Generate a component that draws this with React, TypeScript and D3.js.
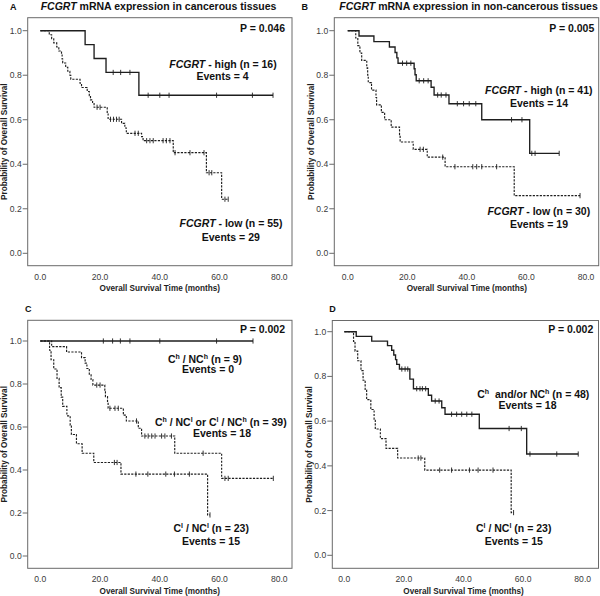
import React from "react";
import * as d3 from "d3";

// ---------- axis ticks ----------
const xTicks = [0, 20, 40, 60, 80];
const yTicks = [0, 0.2, 0.4, 0.6, 0.8, 1.0];

// ---------- Panel A: FCGRT in cancerous tissues ----------
const aHighEvents = [15, 18, 22, 33];
const aHighSurv = [0.9375, 0.875, 0.8125, 0.71];
const aHighCensor = [24.4, 26.9, 30, 36.1, 40, 43.1, 59, 71, 77.9];
const aHighEnd = 77.9;

const aLowEvents = [3.0, 3.8, 4.5, 5.5, 6.2, 7.1, 7.3, 7.5, 8.5, 9.2, 9.9, 10.2, 13.3, 13.8, 15.7, 16.4, 16.8, 17.5, 18.0, 22.4, 22.7, 27.2, 28.3, 28.8, 33.9, 34.4, 44.5, 55.6, 60.7];
const aLowSurv = [0.982, 0.964, 0.945, 0.927, 0.909, 0.891, 0.873, 0.855, 0.836, 0.818, 0.8, 0.782, 0.764, 0.745, 0.727, 0.708, 0.689, 0.673, 0.656, 0.629, 0.602, 0.584, 0.563, 0.539, 0.524, 0.506, 0.452, 0.362, 0.243];
const aLowCensor = [19.0, 20.0, 23.5, 24.5, 25.5, 26.4, 31.7, 32.8, 35.6, 36.7, 37.8, 41.1, 42.2, 43.4, 45.1, 50.1, 54.8, 56.5, 57.4, 61.8, 62.9];
const aLowEnd = 62.9;

// ---------- Panel B: FCGRT in non-cancerous tissues ----------
const bHighEvents = [3.8, 8.8, 14.0, 15.9, 16.5, 16.9, 22.3, 22.6, 23.0, 28.0, 29.0, 34.0, 45.0, 61.1];
const bHighSurv = [0.976, 0.951, 0.927, 0.902, 0.878, 0.854, 0.829, 0.802, 0.775, 0.746, 0.711, 0.672, 0.6, 0.449];
const bHighCensor = [18.4, 19.8, 21.2, 24.0, 25.5, 27.0, 30.2, 31.4, 33.0, 36.8, 38.9, 40.8, 43.0, 55.0, 58.5, 61.8, 62.9, 71.0];
const bHighEnd = 71.0;

const bLowEvents = [2.7, 3.4, 4.1, 4.7, 6.4, 6.7, 6.9, 8.0, 9.5, 9.7, 11.3, 12.4, 14.6, 17.4, 17.6, 22.0, 26.7, 32.7, 55.9];
const bLowSurv = [0.967, 0.933, 0.9, 0.867, 0.833, 0.8, 0.767, 0.733, 0.7, 0.667, 0.633, 0.6, 0.567, 0.533, 0.5, 0.467, 0.432, 0.389, 0.259];
const bLowCensor = [24.3, 25.4, 31.9, 36.0, 42.0, 43.3, 45.0, 50.0, 78.0];
const bLowEnd = 78.0;

// ---------- Panel C ----------
const cHHEvents: number[] = [];
const cHHSurv: number[] = [];
const cHHCensor = [21.1, 24.2, 26.8, 30.0, 40.0, 59.0, 71.2];
const cHHEnd = 71.2;

const cMixEvents = [3.8, 8.8, 13.8, 15.0, 15.6, 16.4, 17.0, 17.6, 21.6, 21.8, 22.5, 22.7, 27.8, 28.8, 32.8, 33.9, 45.0, 60.7];
const cMixSurv = [0.974, 0.949, 0.923, 0.897, 0.872, 0.846, 0.821, 0.795, 0.768, 0.741, 0.714, 0.687, 0.655, 0.628, 0.594, 0.558, 0.478, 0.361];
const cMixCensor = [18.9, 20.0, 23.3, 25.0, 26.1, 32.2, 35.0, 36.1, 37.3, 38.4, 40.6, 41.7, 43.9, 54.5, 61.8, 62.9, 78.0];
const cMixEnd = 78.0;

// Cl / NCl group (n = 23), shown in C and D
const llEvents = [3.1, 3.6, 4.5, 5.6, 6.3, 7.0, 7.5, 8.9, 10.0, 10.4, 12.1, 14.0, 17.9, 27.0, 56.0];
const llSurv = [0.957, 0.913, 0.87, 0.826, 0.783, 0.739, 0.696, 0.652, 0.609, 0.565, 0.522, 0.478, 0.435, 0.381, 0.191];
const llCensor = [24.8, 25.7, 32.0, 36.0, 42.0, 44.9, 49.9, 56.8];
const llEnd = 56.8;

// ---------- Panel D ----------
const dHighEvents = [4.0, 9.2, 14.5, 15.9, 16.6, 17.2, 17.6, 18.5, 22.0, 23.2, 28.2, 29.3, 32.7, 33.8, 45.3, 61.2];
const dHighSurv = [0.979, 0.958, 0.938, 0.917, 0.896, 0.875, 0.854, 0.833, 0.788, 0.745, 0.716, 0.69, 0.66, 0.631, 0.567, 0.453];
const dHighCensor = [19.3, 20.4, 21.3, 24.3, 25.4, 26.2, 27.3, 30.5, 31.8, 36.0, 37.7, 39.4, 41.1, 42.8, 55.3, 59.4, 62.3, 71.3, 78.5];
const dHighEnd = 78.5;

type Curve = { events: number[]; surv: number[]; censor: number[]; end: number; dashed: boolean };
type Layout = { bx0: number; bx1: number; by0: number; by1: number; x0: number; x80: number; yZero: number; yOne: number };

const FONT = "'Liberation Sans', Arial, Helvetica, sans-serif";
const INK = "#1e1e1e";

function survAt(c: Curve, t: number) {
  let s = 1;
  c.events.forEach((e, i) => {
    if (e <= t) s = c.surv[i];
  });
  return s;
}

function Panel({ L, curves, children }: { L: Layout; curves: Curve[]; children?: React.ReactNode }) {
  const x = d3.scaleLinear().domain([0, 80]).range([L.x0, L.x80]);
  const y = d3.scaleLinear().domain([0, 1]).range([L.yZero, L.yOne]);
  const line = d3
    .line<[number, number]>()
    .x((d) => x(d[0]))
    .y((d) => y(d[1]))
    .curve(d3.curveStepAfter);
  return (
    <g>
      <rect x={L.bx0} y={L.by0} width={L.bx1 - L.bx0} height={L.by1 - L.by0} fill="none" stroke="#6a6a6a" strokeWidth={1} />
      {yTicks.map((t) => (
        <g key={"y" + t}>
          <line x1={L.bx0 - 5} x2={L.bx0} y1={y(t)} y2={y(t)} stroke="#6a6a6a" strokeWidth={1} />
          <text x={L.bx0 - 6} y={y(t) + 3} textAnchor="end" fontSize={8.6} fill="#3a3a3a" fontFamily={FONT}>
            {t.toFixed(1)}
          </text>
        </g>
      ))}
      {xTicks.map((t) => (
        <text key={"x" + t} x={x(t)} y={L.by1 + 14} textAnchor="middle" fontSize={8.6} fill="#3a3a3a" fontFamily={FONT}>
          {t.toFixed(1)}
        </text>
      ))}
      <text x={(L.x0 + L.x80) / 2} y={L.by1 + 25.5} textAnchor="middle" fontSize={8.2} fontWeight="bold" fill={INK} fontFamily={FONT}>
        Overall Survival Time (months)
      </text>
      <text
        transform={`translate(${L.bx0 - 20.8},${(L.by0 + L.by1) / 2}) rotate(-90)`}
        textAnchor="middle"
        fontSize={8.2}
        fontWeight="bold"
        fill={INK}
        fontFamily={FONT}
      >
        Probability of Overall Survival
      </text>
      {curves.map((c, i) => {
        const pts: [number, number][] = [[0, 1]];
        c.events.forEach((t, k) => pts.push([t, c.surv[k]]));
        pts.push([c.end, c.surv.length ? c.surv[c.surv.length - 1] : 1]);
        return (
          <g key={"c" + i}>
            <path
              d={line(pts) || ""}
              fill="none"
              stroke={INK}
              strokeWidth={c.dashed ? 1.15 : 1.35}
              strokeDasharray={c.dashed ? "2.2,1.3" : undefined}
            />
            {c.censor.map((t, k) => (
              <line key={k} x1={x(t)} x2={x(t)} y1={y(survAt(c, t)) - 2.6} y2={y(survAt(c, t)) + 2.6} stroke={INK} strokeWidth={0.9} />
            ))}
          </g>
        );
      })}
      {children}
    </g>
  );
}

const T = (props: any) => <text fontFamily={FONT} fontWeight="bold" fill="#111" fontSize={10.5} {...props} />;

// Label with superscripts: parts alternate [text, sup, text, sup, ...]
function SupLabel({ x, y, parts }: { x: number; y: number; parts: string[] }) {
  return (
    <T x={x} y={y} textAnchor="middle">
      {parts.map((p, i) =>
        i % 2 === 1 ? (
          <tspan key={i} dy={-4} fontSize={7}>
            {p}
          </tspan>
        ) : (
          <tspan key={i} dy={i === 0 ? 0 : 4}>
            {p}
          </tspan>
        )
      )}
    </T>
  );
}

export default function App() {
  const LA: Layout = { bx0: 27.7, bx1: 292, by0: 17.7, by1: 265.7, x0: 40.3, x80: 279.3, yZero: 253.3, yOne: 30.7 };
  const LB: Layout = { bx0: 334.3, bx1: 598.7, by0: 17.7, by1: 265.7, x0: 347.7, x80: 586, yZero: 253.3, yOne: 30.7 };
  const LC: Layout = { bx0: 27.7, bx1: 292, by0: 320.3, by1: 568.3, x0: 40.3, x80: 279.3, yZero: 556, yOne: 341 };
  const LD: Layout = { bx0: 332.3, bx1: 598.5, by0: 320.5, by1: 568.3, x0: 344.3, x80: 582.7, yZero: 555.3, yOne: 331.7 };

  const aCurves: Curve[] = [
    { events: aHighEvents, surv: aHighSurv, censor: aHighCensor, end: aHighEnd, dashed: false },
    { events: aLowEvents, surv: aLowSurv, censor: aLowCensor, end: aLowEnd, dashed: true },
  ];
  const bCurves: Curve[] = [
    { events: bHighEvents, surv: bHighSurv, censor: bHighCensor, end: bHighEnd, dashed: false },
    { events: bLowEvents, surv: bLowSurv, censor: bLowCensor, end: bLowEnd, dashed: true },
  ];
  const cCurves: Curve[] = [
    { events: cHHEvents, surv: cHHSurv, censor: cHHCensor, end: cHHEnd, dashed: false },
    { events: cMixEvents, surv: cMixSurv, censor: cMixCensor, end: cMixEnd, dashed: true },
    { events: llEvents, surv: llSurv, censor: llCensor, end: llEnd, dashed: true },
  ];
  const dCurves: Curve[] = [
    { events: dHighEvents, surv: dHighSurv, censor: dHighCensor, end: dHighEnd, dashed: false },
    { events: llEvents, surv: llSurv, censor: llCensor, end: llEnd, dashed: true },
  ];

  return (
    <svg width={600} height={596} style={{ position: "absolute", left: 0, top: 0, background: "#fff" }} xmlns="http://www.w3.org/2000/svg">
      <rect x={0} y={0} width={600} height={596} fill="#fff" />
      {/* Panel A */}
      <T x={10} y={10} fontSize={9}>A</T>
      <T x={40.7} y={10}>
        <tspan fontStyle="italic">FCGRT</tspan>
        <tspan> mRNA expression in cancerous tissues</tspan>
      </T>
      <Panel L={LA} curves={aCurves}>
        <T x={285} y={31.7} textAnchor="end">P = 0.046</T>
        <T x={223} y={67.7} textAnchor="middle">
          <tspan fontStyle="italic">FCGRT</tspan>
          <tspan> - high (n = 16)</tspan>
        </T>
        <T x={222.5} y={80} textAnchor="middle">Events = 4</T>
        <T x={231} y={227.3} textAnchor="middle">
          <tspan fontStyle="italic">FCGRT</tspan>
          <tspan> - low (n = 55)</tspan>
        </T>
        <T x={230.8} y={240.7} textAnchor="middle">Events = 29</T>
      </Panel>

      {/* Panel B */}
      <T x={301.5} y={10} fontSize={9}>B</T>
      <T x={339.3} y={10}>
        <tspan fontStyle="italic">FCGRT</tspan>
        <tspan> mRNA expression in non-cancerous tissues</tspan>
      </T>
      <Panel L={LB} curves={bCurves}>
        <T x={594.3} y={31.7} textAnchor="end">P = 0.005</T>
        <T x={538.8} y={94} textAnchor="middle">
          <tspan fontStyle="italic">FCGRT</tspan>
          <tspan> - high (n = 41)</tspan>
        </T>
        <T x={539} y={106.7} textAnchor="middle">Events = 14</T>
        <T x={538.8} y={215.3} textAnchor="middle">
          <tspan fontStyle="italic">FCGRT</tspan>
          <tspan> - low (n = 30)</tspan>
        </T>
        <T x={539} y={228.3} textAnchor="middle">Events = 19</T>
      </Panel>

      {/* Panel C */}
      <T x={25} y={312} fontSize={9}>C</T>
      <Panel L={LC} curves={cCurves}>
        <T x={285} y={332.7} textAnchor="end">P = 0.002</T>
        <SupLabel x={205} y={362.7} parts={["C", "h", " / NC", "h", " (n = 9)"]} />
        <T x={208} y={373.3} textAnchor="middle">Events = 0</T>
        <SupLabel x={220.8} y={426} parts={["C", "h", " / NC", "l", " or C", "l", " / NC", "h", " (n = 39)"]} />
        <T x={222} y={436.7} textAnchor="middle">Events = 18</T>
        <SupLabel x={211.2} y={532} parts={["C", "l", " / NC", "l", " (n = 23)"]} />
        <T x={211} y={545.3} textAnchor="middle">Events = 15</T>
      </Panel>

      {/* Panel D */}
      <T x={329.3} y={312} fontSize={9}>D</T>
      <Panel L={LD} curves={dCurves}>
        <T x={593.3} y={332.7} textAnchor="end">P = 0.002</T>
        <SupLabel x={533.3} y={397.7} parts={["C", "h", "\u00A0 and/or NC", "h", " (n = 48)"]} />
        <T x={527.5} y={408.7} textAnchor="middle">Events = 18</T>
        <SupLabel x={513.7} y={532} parts={["C", "l", " / NC", "l", " (n = 23)"]} />
        <T x={513.8} y={545.3} textAnchor="middle">Events = 15</T>
      </Panel>
    </svg>
  );
}
